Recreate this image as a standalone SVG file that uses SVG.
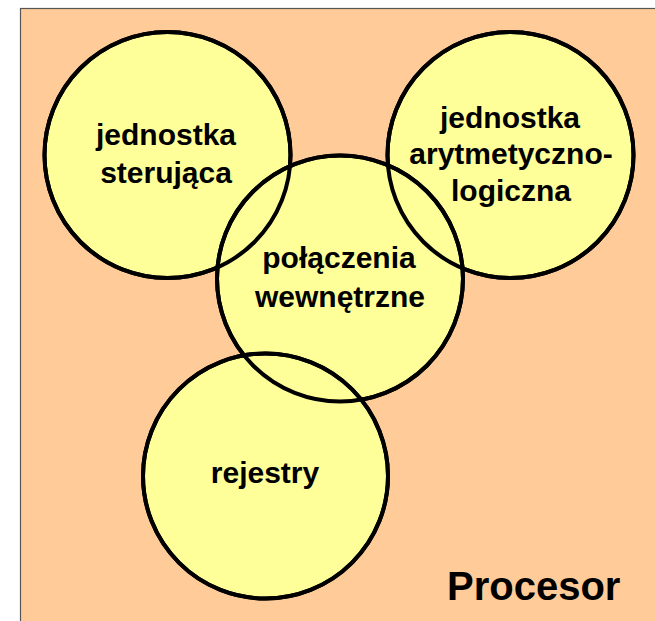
<svg xmlns="http://www.w3.org/2000/svg" width="655" height="621" viewBox="0 0 655 621">
<style>
.bg{fill:#FFCC99;stroke:#555;stroke-width:1.2}
.node{fill:#FFFF99;stroke:#000;stroke-width:4}
.ring{fill:none;stroke:#000;stroke-width:4}
.lbl{font-family:"Liberation Sans",Arial,sans-serif;font-weight:bold;font-size:30px;fill:#000;text-anchor:middle}
.title{font-family:"Liberation Sans",Arial,sans-serif;font-weight:bold;font-size:40px;fill:#000}
</style>
<rect class="bg" x="20.5" y="8.5" width="640" height="620"/>
<g id="jednostka-sterujaca">
<circle class="node" cx="167.5" cy="155" r="123"/>
<text class="lbl" x="166" y="145">jednostka</text>
<text class="lbl" x="166" y="183">sterująca</text>
</g>
<g id="jednostka-alu">
<circle class="node" cx="510.5" cy="155" r="123"/>
<text class="lbl" x="510" y="128">jednostka</text>
<text class="lbl" x="511" y="164">arytmetyczno-</text>
<text class="lbl" x="511" y="201">logiczna</text>
</g>
<g id="polaczenia-wewnetrzne">
<circle class="node" cx="340" cy="278.5" r="123"/>
<text class="lbl" x="339" y="268">połączenia</text>
<text class="lbl" x="340" y="307">wewnętrzne</text>
</g>
<g id="rejestry">
<circle class="node" cx="265.5" cy="476" r="122.5"/>
<text class="lbl" x="265" y="483">rejestry</text>
</g>
<g id="connectors">
<circle class="ring" cx="167.5" cy="155" r="123"/>
<circle class="ring" cx="510.5" cy="155" r="123"/>
<circle class="ring" cx="340" cy="278.5" r="123"/>
<circle class="ring" cx="265.5" cy="476" r="122.5"/>
</g>
<text class="title" x="447" y="600">Procesor</text>
</svg>
